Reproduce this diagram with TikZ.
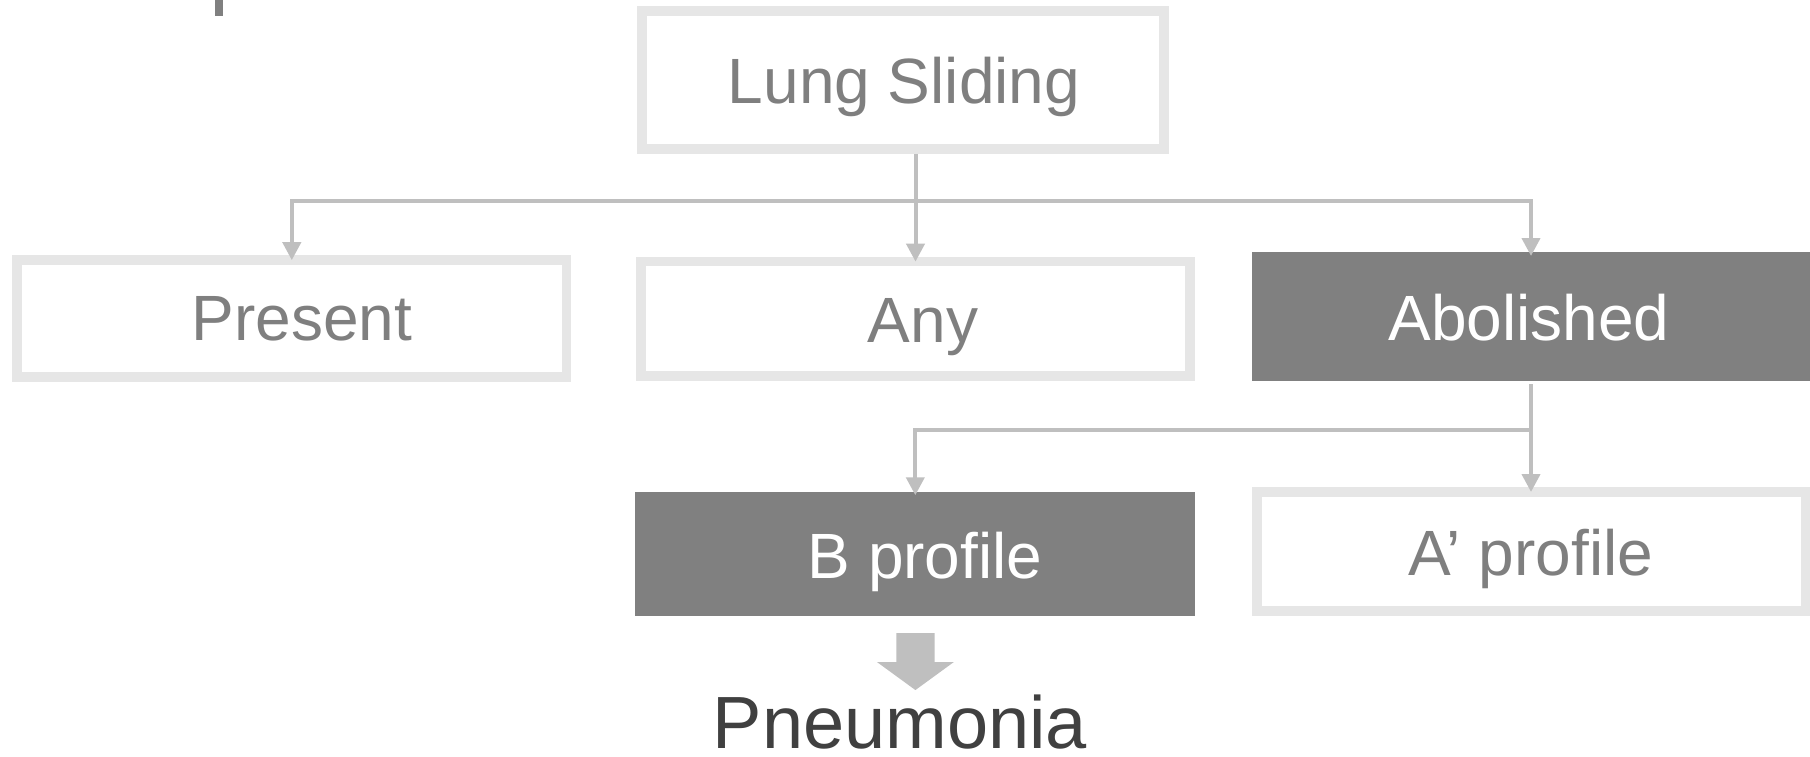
\documentclass[tikz,border=0pt]{standalone}
\usepackage{fontspec}
\setmainfont{Liberation Sans}
\usetikzlibrary{arrows.meta}
\definecolor{bordergray}{HTML}{E6E6E6}
\definecolor{conngray}{HTML}{BFBFBF}
\definecolor{fillgray}{HTML}{808080}
\definecolor{textgray}{HTML}{7F7F7F}
\definecolor{darktext}{HTML}{404040}
\begin{document}
\begin{tikzpicture}[x=1pt,y=-1pt,
  outlinebox/.style={draw=bordergray, line width=9.5pt, fill=white, inner sep=0pt, outer sep=0pt},
  solidbox/.style={fill=fillgray, draw=none, inner sep=0pt, outer sep=0pt},
  boxtext/.style={anchor=base, inner sep=0pt, text=textgray, font=\fontsize{64pt}{77pt}\selectfont},
  boxtextw/.style={boxtext, text=white},
  conn/.style={draw=conngray, line width=4pt, line join=miter, -{Triangle[width=18pt,length=18pt]}},
  bigarrow/.style={fill=conngray, draw=none},
  resulttext/.style={anchor=base, inner sep=0pt, text=darktext, font=\fontsize{74pt}{88pt}\selectfont}
]
\useasboundingbox (0,0) rectangle (1810,756);

% cut-off mark at the top left
\fill[fillgray] (215,0) rectangle (222.7,15.7);

% boxes
\node[outlinebox, minimum width=522pt, minimum height=138pt] (ls) at (903,80) {};
\node[boxtext] (lsT) at (904,103) {Lung Sliding};

\node[outlinebox, minimum width=549.6pt, minimum height=117pt] (present) at (291.8,318.7) {};
\node[boxtext] (presentT) at (302,340) {Present};

\node[outlinebox, minimum width=549pt, minimum height=114.3pt] (any) at (915.5,318.8) {};
\node[boxtext] (anyT) at (923,342.5) {Any};

\node[solidbox, minimum width=560pt, minimum height=129pt] (abol) at (1532,316.5) {};
\node[boxtextw] (abolT) at (1529,340.5) {Abolished};

\node[solidbox, minimum width=560pt, minimum height=124.3pt] (bprof) at (915.3,553.9) {};
\node[boxtextw] (bprofT) at (925,578.3) {B profile};

\node[outlinebox, minimum width=548.5pt, minimum height=119pt] (aprof) at (1531,551.5) {};
\node[boxtext] (aprofT) at (1531,575) {A’ profile};

\node[resulttext] (pneu) at (900,748) {Pneumonia};

% helper coordinates
\coordinate (lsb) at ([yshift=-4.75pt]ls.south);
\coordinate (j1) at (915.5,201);
\coordinate (abtop) at ([yshift=-4pt]abol.north -| aprof.north);
\coordinate (abbot) at ([yshift=-3pt]abol.south);
\coordinate (j2) at (1531,430);
\coordinate (btop) at ([yshift=-3.5pt]bprof.north);
\coordinate (bbot) at ([yshift=-17pt]bprof.south);

% connectors
\draw[conn] (lsb -| any.north) -- (any.north);
\draw[conn] (j1) -| (present.north);
\draw[conn] (j1) -| (abtop);
\draw[conn] (abbot -| aprof.north) -- (aprof.north);
\draw[conn] (j2) -| (btop);

% block arrow to result
\fill[bigarrow] (bbot) ++(-19,0) -- ++(0,29) -- ++(-19.3,0) -- ++(38.4,28)
  -- ++(38.4,-28) -- ++(-19.3,0) -- ++(0,-29) -- cycle;
\end{tikzpicture}
\end{document}
